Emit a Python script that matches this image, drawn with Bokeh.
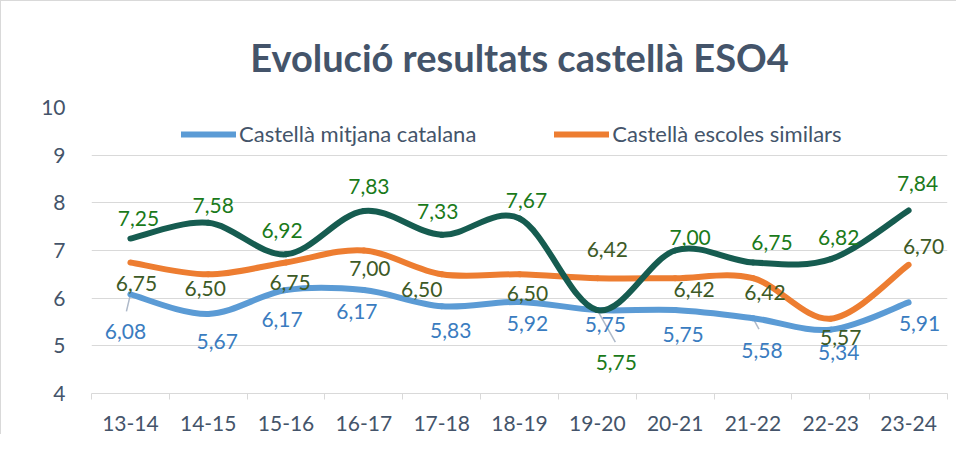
from bokeh.plotting import figure
from bokeh.models import FixedTicker, Legend, LegendItem, Range1d, LabelSet, ColumnDataSource
from bokeh.core.properties import value
from bokeh.embed import file_html
from bokeh.resources import INLINE

# ---- data ----
categories = ["13-14", "14-15", "15-16", "16-17", "17-18", "18-19",
              "19-20", "20-21", "21-22", "22-23", "23-24"]
mitjana_catalana = [6.08, 5.67, 6.17, 6.17, 5.83, 5.92, 5.75, 5.75, 5.58, 5.34, 5.91]
escoles_similars = [6.75, 6.50, 6.75, 7.00, 6.50, 6.50, 6.42, 6.42, 6.42, 5.57, 6.70]
escola = [7.25, 7.58, 6.92, 7.83, 7.33, 7.67, 5.75, 7.00, 6.75, 6.82, 7.84]
y_ticks = [4, 5, 6, 7, 8, 9, 10]

# ---- label placement (screen pixel offsets from each point) ----
escola_off = [(8, -20), (5, -17), (-4, -24), (5, -24), (-4, -23), (7, -18),
              (19, 52), (15, -13), (19, -20), (8, -22), (9, -27)]
similars_off = [(6, 21), (-3, 14), (4, 20), (6, 18), (-20, 15), (8, 19),
                (10, -29), (19, 11), (12, 14), (10, 19), (15, -18)]
mitjana_off = [(-5, 37), (9, 28), (-4, 29), (-7, 21), (9, 24), (8, 22),
               (8, 14), (8, 24), (9, 32), (8, 23), (11, 21)]
# leader lines: (series, index, end offset px)
leaders = [("mitjana", 0, (-4, 17)), ("escola", 6, (18, 32)), ("mitjana", 8, (6, 11))]

FONT = "Lato"
AXIS_COLOR = "#44546A"
GRID = "#D9D9D9"

n = len(categories)
xs = list(range(n))

W, H = 956, 434
BL, BR, BT, BB = 90, 10, 106, 42
Y0, Y1 = 4, 10

p = figure(width=W, height=H, output_backend="svg", toolbar_location=None,
           x_range=Range1d(-0.5, n - 0.5), y_range=Range1d(Y0, Y1),
           min_border_left=BL, min_border_right=BR, min_border_top=BT,
           min_border_bottom=BB)
p.outline_line_color = None
p.background_fill_color = "white"
p.border_fill_color = "white"
p.styles = {"border-top": "1px solid #D9D9D9", "border-left": "1px solid #D9D9D9"}

p.title.text = "Evolució resultats castellà ESO4"
p.title.align = "center"
p.title.text_font = FONT
p.title.text_font_style = "bold"
p.title.text_font_size = "38px"
p.title.text_color = AXIS_COLOR
p.title.standoff = 55
p.title.offset = -16

# axes
p.xaxis.ticker = FixedTicker(ticks=xs, minor_ticks=[i - 0.5 for i in range(n + 1)])
p.xaxis.major_label_overrides = {i: c for i, c in enumerate(categories)}
p.xaxis.major_tick_in = 0
p.xaxis.major_tick_out = 0
p.xaxis.minor_tick_in = 0
p.xaxis.minor_tick_out = 6
p.xaxis.minor_tick_line_color = GRID
p.xaxis.axis_line_color = GRID
p.xaxis.major_label_standoff = 16
p.xaxis.major_label_text_font = FONT
p.xaxis.major_label_text_font_size = "21px"
p.xaxis.major_label_text_color = AXIS_COLOR

p.yaxis.ticker = FixedTicker(ticks=y_ticks)
p.yaxis.axis_line_color = None
p.yaxis.major_tick_line_color = None
p.yaxis.minor_tick_line_color = None
p.yaxis.major_label_standoff = 20
p.yaxis.major_label_text_font = FONT
p.yaxis.major_label_text_font_size = "21px"
p.yaxis.major_label_text_color = AXIS_COLOR

p.xgrid.grid_line_color = None
p.ygrid.grid_line_color = GRID
p.ygrid.grid_line_width = 1


def bezier_segments(ys):
    x0, y0, x1, y1, cx0, cy0, cx1, cy1 = [], [], [], [], [], [], [], []
    for i in range(n - 1):
        a = max(i - 1, 0)
        d = min(i + 2, n - 1)
        x0.append(xs[i]); y0.append(ys[i])
        x1.append(xs[i + 1]); y1.append(ys[i + 1])
        cx0.append(xs[i] + (xs[i + 1] - xs[a]) / 6.0)
        cy0.append(ys[i] + (ys[i + 1] - ys[a]) / 6.0)
        cx1.append(xs[i + 1] - (xs[d] - xs[i]) / 6.0)
        cy1.append(ys[i + 1] - (ys[d] - ys[i]) / 6.0)
    return dict(x0=x0, y0=y0, x1=x1, y1=y1, cx0=cx0, cy0=cy0, cx1=cx1, cy1=cy1)


series_vals = {"similars": escoles_similars, "mitjana": mitjana_catalana, "escola": escola}

# leader lines (drawn beneath the curves)
px_x = (W - BL - BR) / n
px_y = (H - BT - BB) / (Y1 - Y0)
lx0, ly0, lx1, ly1 = [], [], [], []
for key, i, (dx, dy) in leaders:
    v = series_vals[key][i]
    lx0.append(xs[i]); ly0.append(v)
    lx1.append(xs[i] + dx / px_x); ly1.append(v - dy / px_y)
p.segment(x0=lx0, y0=ly0, x1=lx1, y1=ly1, line_color="#AEB9C9", line_width=1.5)

series = [
    ("similars", "#ED7D31"),
    ("mitjana", "#5B9BD5"),
    ("escola", "#165C50"),
]
renderers = {}
for key, col in series:
    seg = bezier_segments(series_vals[key])
    renderers[key] = p.bezier(line_color=col, line_width=6, line_cap="round", **seg)


def fmt(v):
    return f"{v:.2f}".replace(".", ",")


labels = [
    (escola, escola_off, "#1A7A1A"),
    (escoles_similars, similars_off, "#3D5A26"),
    (mitjana_catalana, mitjana_off, "#3A7CC0"),
]
for ys, offs, col in labels:
    src = ColumnDataSource(dict(x=xs, y=ys, t=[fmt(v) for v in ys],
                                dx=[o[0] for o in offs], dy=[-o[1] for o in offs]))
    p.add_layout(LabelSet(x="x", y="y", text="t", x_offset="dx", y_offset="dy",
                          source=src, text_align="center", text_baseline="middle",
                          text_font=value(FONT), text_font_size="21px", text_color=col))

# legend (only the two reference series)
legend = Legend(items=[LegendItem(label="Castellà mitjana catalana", renderers=[renderers["mitjana"]], index=0),
                       LegendItem(label="Castellà escoles similars", renderers=[renderers["similars"]], index=0)],
                orientation="horizontal", location=(90, 246),
                padding=0, margin=0, spacing=78, label_standoff=3,
                glyph_width=55, glyph_height=26, label_height=26,
                border_line_color=None, background_fill_alpha=0,
                label_text_font=FONT, label_text_font_size="22px",
                label_text_color=AXIS_COLOR)
p.add_layout(legend)

open("out.html", "w").write(file_html(p, INLINE))
